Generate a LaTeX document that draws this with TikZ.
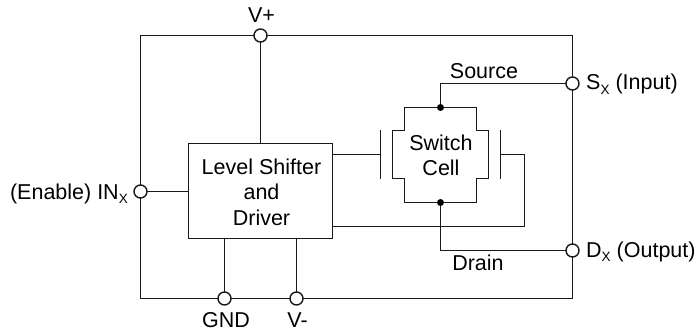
\documentclass[tikz,border=0pt]{standalone}
\usepackage{fontspec}
\setmainfont{Liberation Sans}
\newcommand{\subx}{\raisebox{-0.2em}{\fontsize{13.5}{15}\selectfont X}}
\tikzset{
  x=1pt,y=-1pt,
  wire/.style={draw=black!90,line width=1.4pt,line join=miter},
  term/.style={circle,draw=black!90,line width=1.4pt,fill=white,inner sep=0pt,minimum size=13pt},
  dotn/.style={circle,fill=black,inner sep=0pt,minimum size=7pt},
  lab/.style={anchor=base,inner sep=0pt,text=black,font=\fontsize{21.5}{25}\selectfont},
  blockbox/.style={draw=black!90,line width=1.4pt,inner sep=0pt,outer sep=0pt,anchor=north west},
}
\begin{document}
\begin{tikzpicture}
\useasboundingbox (0,0) rectangle (696,334);
% outer frame
\node[blockbox,minimum width=432pt,minimum height=263pt] (frame) at (140.5,35.5) {};
% level shifter
\node[blockbox,minimum width=144pt,minimum height=95pt] (drv) at (188.5,143.5) {};
% terminals
\coordinate (vpc) at (260.5,35.5);
\coordinate (inc) at (140.5,191.5);
\coordinate (gndc) at (224.5,298.5);
\coordinate (vmc) at (296.5,298.5);
\coordinate (sc) at (572.5,83.5);
\coordinate (dc) at (572.5,250.5);
% cell
\coordinate (top) at (440.5,107.5);
\coordinate (bot) at (440.5,202.5);
\coordinate (gl) at (380.5,154.5);
\coordinate (gr) at (500.5,154.5);
\coordinate (gla) at (380.5,130.5);
\coordinate (glb) at (380.5,178.5);
\coordinate (gra) at (500.5,130.5);
\coordinate (grb) at (500.5,178.5);
\coordinate (rc1) at (524.5,154.5);
\coordinate (rc2) at (524.5,226.5);
\coordinate (drvr) at (332.5,226.5);
\draw[wire] (top) -- (404.5,107.5) -- (404.5,130.5) -- (392.5,130.5) -- (392.5,178.5) -- (404.5,178.5) -- (404.5,202.5) -- (bot)
  -- (476.5,202.5) -- (476.5,178.5) -- (488.5,178.5) -- (488.5,130.5) -- (476.5,130.5) -- (476.5,107.5) -- cycle;
\draw[wire] (gla) -- (glb);
\draw[wire] (gra) -- (grb);
\draw[wire] (drv.east |- gl) -- (gl);
\draw[wire] (gr) -- (rc1) -- (rc2) -- (drvr);
% connectors
\draw[wire] (vpc) -- (vpc |- drv.north);
\draw[wire] (inc) -- (inc -| drv.west);
\draw[wire] (gndc) -- (gndc |- drv.south);
\draw[wire] (vmc) -- (vmc |- drv.south);
\draw[wire] (top) -- (top |- sc) -- (sc);
\draw[wire] (bot) -- (bot |- dc) -- (dc);
\node[dotn] (dt) at (top) {};
\node[dotn] (db) at (bot) {};
\node[term] (vp) at (vpc) {};
\node[term] (in) at (inc) {};
\node[term] (gnd) at (gndc) {};
\node[term] (vm) at (vmc) {};
\node[term] (s) at (sc) {};
\node[term] (d) at (dc) {};
% labels
\node[lab] (lvp) at (261.5,23) {V+};
\node[lab,anchor=base east] (lin) at (128,199) {(Enable) IN\subx};
\node[lab] (lgnd) at (226,327) {GND};
\node[lab] (lvm) at (297.5,327) {V-};
\node[lab,anchor=base west] (ls) at (586,90) {S\subx{} (Input)};
\node[lab,anchor=base west] (ld) at (586,257) {D\subx{} (Output)};
\node[lab] (lsrc) at (484,79) {Source};
\node[lab] (ldr) at (478,270.5) {Drain};
\node[lab] (l1) at (261.5,174) {Level Shifter};
\node[lab] (l2) at (261.5,199) {and};
\node[lab] (l3) at (261.5,225) {Driver};
\node[lab] (c1) at (441,150.7) {Switch};
\node[lab] (c2) at (441,175.7) {Cell};
\end{tikzpicture}
\end{document}
